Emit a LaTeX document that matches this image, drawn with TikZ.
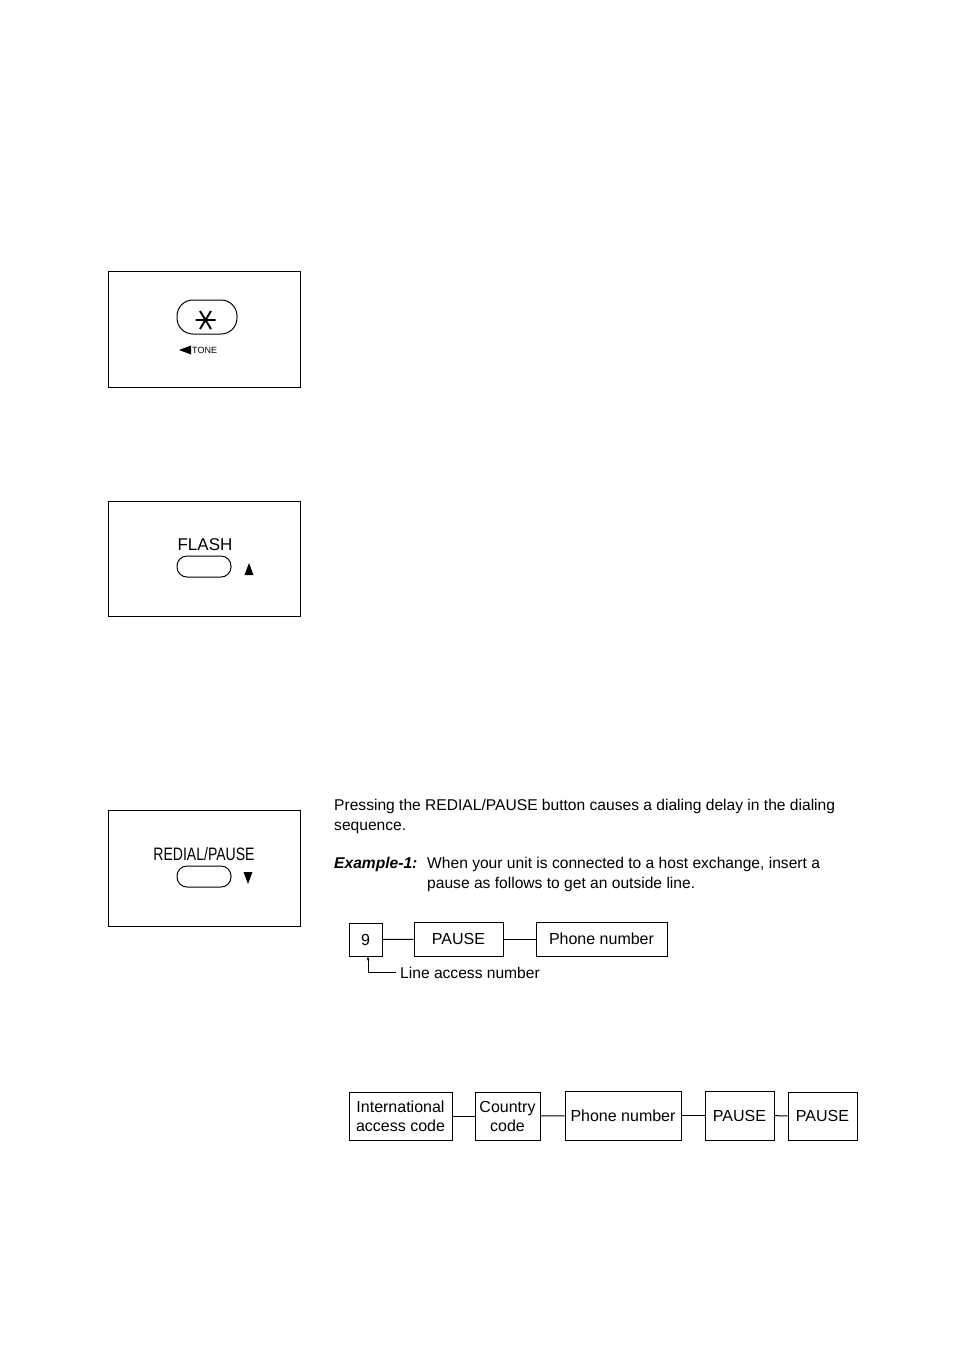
\documentclass[tikz,border=0pt]{standalone}
\usepackage{fontspec}
\setmainfont{Liberation Sans}
\usetikzlibrary{arrows.meta}
\begin{document}
\begin{tikzpicture}[x=1pt,y=-1pt,
  panel/.style={draw,line width=1pt},
  btn/.style={draw,line width=1pt,rounded corners=10pt},
  txt/.style={inner sep=0pt,anchor=base west,font=\fontsize{15.6}{19}\selectfont},
  flowbox/.style={draw,line width=0.9pt,inner sep=0pt,align=center,font=\fontsize{16}{19}\selectfont},
  link/.style={line width=1pt}]
\useasboundingbox (0,0) rectangle (954,1350);
% Panel 1
\draw[panel] (108,271) rectangle (300,387);
\draw[btn,rounded corners=16pt] (177,300) rectangle (237,334);
\draw[line width=1.9pt] (195.5,320) -- (215.5,320) (200,311) -- (211,329) (211,311) -- (200,329);
\fill (179,350) -- (191,345.5) -- (191,354.5) -- cycle;
\node[inner sep=0pt,anchor=west,font=\fontsize{9}{10}\selectfont] (tone) at (192,350.5) {TONE};
% Panel 2
\draw[panel] (108,501) rectangle (300,616);
\node[inner sep=0pt,font=\fontsize{17}{20}\selectfont] (flash) at (205,545) {FLASH};
\draw[btn] (177,556) rectangle (231,577);
\fill (249,563) -- (244.5,575) -- (253.5,575) -- cycle;
% Panel 3
\draw[panel] (108,810) rectangle (300,926);
\node[inner sep=0pt,font=\fontsize{18}{20}\selectfont] (redial) at (204,854) {\scalebox{0.78}[1]{REDIAL/PAUSE}};
\draw[btn] (177,866) rectangle (231,887);
\fill (248,884) -- (243.5,872) -- (252.5,872) -- cycle;
% Text
\node[txt] (t1) at (334,810.5) {Pressing the REDIAL/PAUSE button causes a dialing delay in the dialing};
\node[txt] (t2) at (334,830.5) {sequence.};
\node[txt] (ex) at (334,868) {\textbf{\textit{Example-1:}}};
\node[txt] (t3) at (427,868) {When your unit is connected to a host exchange, insert a};
\node[txt] (t4) at (427,888) {pause as follows to get an outside line.};
% Example 1 flow
\node[flowbox,minimum width=33pt,minimum height=33pt] (n9) at (365.5,939.5) {9};
\node[flowbox,minimum width=89pt,minimum height=34pt] (pause1) at (458.5,939) {PAUSE};
\node[flowbox,minimum width=131pt,minimum height=34pt] (phone1) at (601.5,939) {Phone number};
\draw[link] (n9) -- (pause1);
\draw[link] (pause1) -- (phone1);
\node[txt] (lan) at (400,978) {Line access number};
\coordinate (lanc) at (368,972);
\draw[link,-{Stealth[length=4pt,width=3pt]}] (lan.west |- lanc) ++(-4,0) -- (lanc) -- (n9.south -| lanc);
% Example 2 flow
\node[flowbox,minimum width=103pt,minimum height=48pt,text depth=0pt] (intl) at (400.5,1116) {International\\access code};
\node[flowbox,minimum width=65pt,minimum height=48pt] (cc) at (507.5,1116) {Country\\code};
\node[flowbox,minimum width=116pt,minimum height=49pt] (phone2) at (623,1115.5) {Phone number};
\node[flowbox,minimum width=69pt,minimum height=49pt] (pause2) at (739.5,1115.5) {PAUSE};
\node[flowbox,minimum width=69pt,minimum height=48pt] (pause3) at (822.5,1116) {PAUSE};
\draw[link] (intl) -- (cc);
\draw[link] (cc) -- (phone2);
\draw[link] (phone2) -- (pause2);
\draw[link] (pause2) -- (pause3);
\end{tikzpicture}
\end{document}
